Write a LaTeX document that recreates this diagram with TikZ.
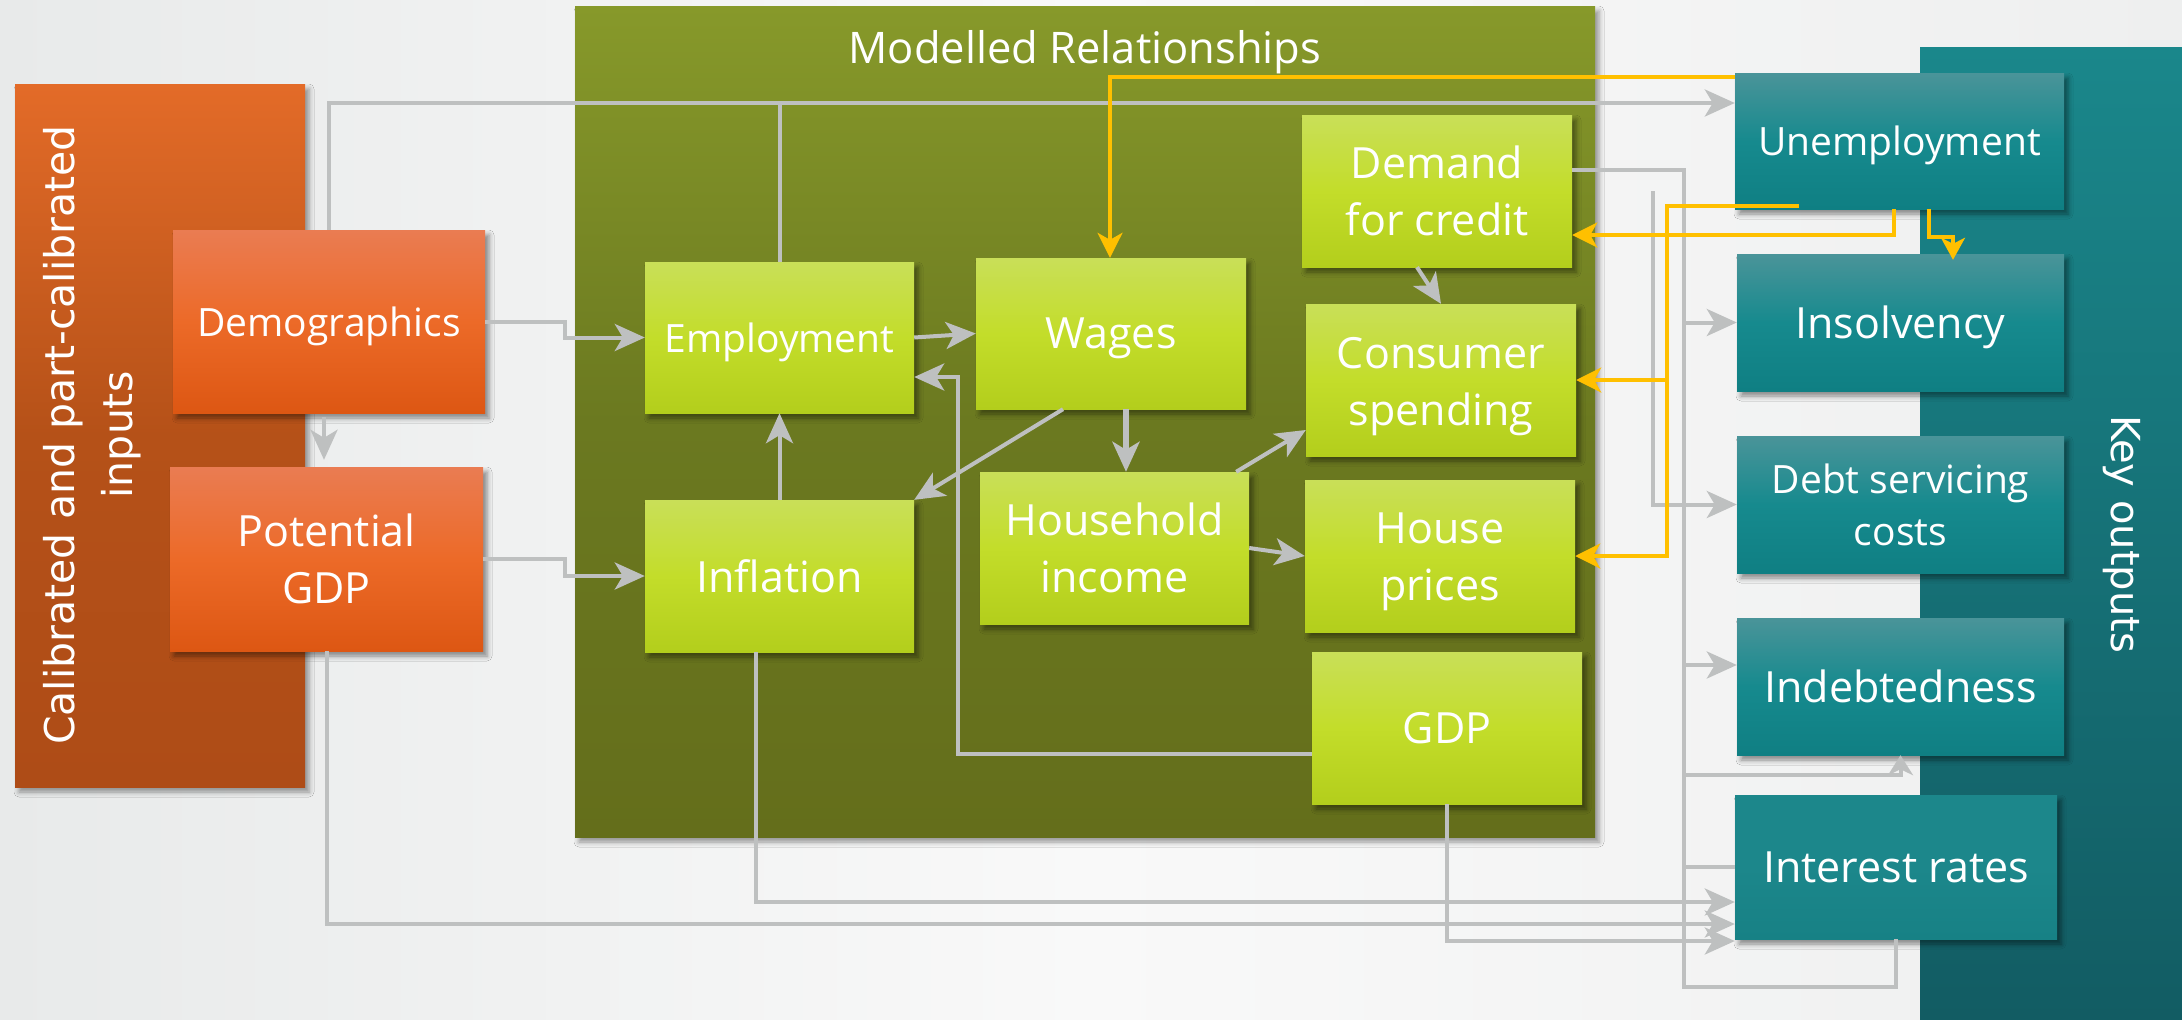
\documentclass[tikz,border=0pt]{standalone}
\usepackage{fontspec}
\setmainfont{Open Sans}
\newfontfamily\widefont{DejaVu Sans}
\usetikzlibrary{arrows.meta,calc,shadows.blur}

% colours
\definecolor{bgL}{HTML}{E8EAEA}
\definecolor{bgM}{HTML}{F9F9F9}
\definecolor{bgR}{HTML}{EEEFEF}
\definecolor{inTop}{HTML}{E36B28}
\definecolor{inMid}{HTML}{B55118}
\definecolor{inBot}{HTML}{AE4C17}
\definecolor{orTop}{HTML}{EA7C52}
\definecolor{orMid}{HTML}{EC6A28}
\definecolor{orBot}{HTML}{DD5713}
\definecolor{modTop}{HTML}{87992A}
\definecolor{modMid}{HTML}{6B7920}
\definecolor{modBot}{HTML}{646E1B}
\definecolor{grTop}{HTML}{C9DF58}
\definecolor{grMid}{HTML}{C3DD2A}
\definecolor{grBot}{HTML}{B3CE1C}
\definecolor{keyTop}{HTML}{1A878B}
\definecolor{keyBot}{HTML}{125C63}
\definecolor{tlTop}{HTML}{4A9499}
\definecolor{tlMid}{HTML}{168A8E}
\definecolor{tlBot}{HTML}{0F7F83}
\definecolor{rateTop}{HTML}{1C878B}
\definecolor{rateBot}{HTML}{178185}
\definecolor{linkgray}{HTML}{BEC0C0}
\definecolor{flow}{HTML}{FFC000}

\newcommand{\boxtext}{\fontsize{43}{57}\selectfont}
\newcommand{\boxtextsmall}{\fontsize{39}{52}\selectfont}
% two centred lines, pushed down a little
\newcommand{\twolines}[3]{\raisebox{#3}[0pt][0pt]{\begin{tabular}{@{}c@{}}#1\\#2\end{tabular}}}

\pgfdeclarelayer{bg}
\pgfdeclarelayer{mid}
\pgfsetlayers{bg,mid,main}

\tikzset{
  box/.style={rectangle, inner sep=0pt, text=white,
    blur shadow={shadow xshift=4pt, shadow yshift=-5pt, shadow blur radius=5pt, shadow opacity=45}},
  inbox/.style={box, top color=orTop, bottom color=orBot, middle color=orMid},
  relbox/.style={box, top color=grTop, bottom color=grBot, middle color=grMid},
  outbox/.style={box, top color=tlTop, bottom color=tlBot, middle color=tlMid},
  link/.style={draw=linkgray, line width=4pt},
  arr/.style={link, -{Stealth[length=30pt, width=27pt, inset=8pt]}},
  yarr/.style={draw=flow, line width=3.5pt, -{Stealth[length=25pt, width=25pt, inset=7pt]}},
}

\begin{document}
\begin{tikzpicture}[x=1pt, y=-1pt]
\useasboundingbox (0,0) rectangle (2182,1020);

% input boxes
\node[inbox, text depth=-5pt, minimum width=312pt, minimum height=183pt, font=\boxtextsmall] (demo) at (329,321.5) {Demographics};
\node[inbox, align=center, minimum width=313pt, minimum height=184pt, font=\boxtext] (pgdp) at (326.5,559) {Potential\\GDP};

% modelled relationships
\node[relbox, text depth=0pt, minimum width=269pt, minimum height=151pt, font=\boxtextsmall] (emp) at (779.5,337.5) {Employment};
\node[relbox, text depth=-6pt, minimum width=270pt, minimum height=151pt, font=\boxtext] (wages) at (1111,333.5) {Wages};
\node[relbox, minimum width=269pt, minimum height=152pt, font=\boxtext] (infl) at (779.5,576) {Inflation};
\node[relbox, align=center, minimum width=269pt, minimum height=152pt, font=\boxtext] (hhinc) at (1114.5,548) {Household\\income};
\node[relbox, align=center, minimum width=270pt, minimum height=152pt, font=\boxtext] (dfc) at (1437,191) {Demand\\for credit};
\node[relbox, minimum width=270pt, minimum height=152pt, font=\boxtext] (cons) at (1441,380) {\twolines{Consumer}{spending}{-12pt}};
\node[relbox, minimum width=270pt, minimum height=152pt, font=\boxtext] (house) at (1440,556) {\twolines{House}{prices}{-10.5pt}};
\node[relbox, minimum width=270pt, minimum height=152pt, font=\boxtext] (gdp) at (1447,728) {GDP};

% key outputs
\node[outbox, text depth=-1pt, minimum width=329pt, minimum height=136pt, font=\boxtextsmall] (unemp) at (1899.5,141) {Unemployment};
\node[outbox, text depth=-4pt, minimum width=327pt, minimum height=137pt, font=\boxtext] (insolv) at (1900.5,322.5) {Insolvency};
\node[outbox, align=center, minimum width=327pt, minimum height=137pt, font=\boxtextsmall] (debt) at (1900.5,504.5) {Debt servicing\\costs};
\node[outbox, text depth=-6pt, minimum width=327pt, minimum height=137pt, font=\boxtext] (indebt) at (1900.5,686.5) {Indebtedness};
\node[outbox, top color=rateTop, bottom color=rateBot, middle color=rateTop, text depth=-6pt,
  minimum width=322pt, minimum height=144pt, font=\boxtext] (intr) at (1896,867) {Interest rates};

% inputs into the model
\draw[arr] (demo.east) -- ++(80,0) |- (emp.west);
\draw[arr] (pgdp.east) -- ++(82,0) |- (infl.west);
\draw[arr, shorten <=4pt, shorten >=7pt] ([xshift=-5pt]demo.south) -- ([xshift=-2.5pt]pgdp.north);
\coordinate (toprow) at ([yshift=38pt]unemp.west);
\draw[arr] (demo.north) |- (toprow);
\draw[link] (emp.north) -- (emp.north |- toprow);

% links inside the model
\draw[arr] (emp.east) -- (wages.west);
\draw[arr] (infl.north) -- (emp.south);
\draw[arr] ([xshift=-48pt]wages.south) -- (infl.north east);
\draw[arr] ([yshift=-26pt]gdp.west) -- ++(-354,0) |- ([yshift=-39.5pt]emp.east);
\coordinate (wagesfoot) at ([xshift=15pt]wages.south);
\draw[arr, line width=6pt] (wagesfoot) -- (wagesfoot |- hhinc.north);
\draw[arr] ([xshift=-13pt]hhinc.north east) -- ([yshift=-50pt]cons.west);
\draw[arr] (hhinc.east) -- (house.west);
\draw[arr] ([xshift=-20pt]dfc.south) -- (cons.north);

% into interest rates
\draw[arr] ([xshift=-23.5pt]infl.south) |- ([yshift=-35pt]intr.west);
\draw[arr] (pgdp.south) |- ([yshift=-57pt]intr.west);
\draw[arr] (gdp.south) |- ([yshift=-74pt]intr.west);

% feedback bus on the right
\coordinate (bus) at ($(intr.west)+(-51,120)$);
\draw[link] ([yshift=21pt]dfc.east) -| (bus) -| (intr.south);
\draw[arr] (bus |- insolv.west) -- (insolv.west);
\coordinate (ind) at ([yshift=21.5pt]indebt.west);
\draw[arr] (bus |- ind) -- (ind);
\coordinate (indb) at ($(indebt.south)+(0,20)$);
\draw[link, -{Stealth[length=20pt, width=25pt, inset=6pt]}] (bus |- indb) -| (indebt.south);
\draw[link] (intr.west) -- (bus |- intr.west);
\begin{pgfonlayer}{mid}
\draw[arr] (intr.west) |- (dfc.east);
\end{pgfonlayer}
\draw[arr] ([xshift=81pt]dfc.east) |- (debt.west);

% unemployment feeds back
\draw[yarr] ([yshift=64pt]unemp.west) -| ([xshift=-1pt]wages.north);
\coordinate (ydrop) at ([xshift=92pt]house.east);
\draw[yarr] ([xshift=-100.5pt,yshift=3pt]unemp.south) -| (ydrop) -- (house.east);
\draw[yarr] (ydrop |- cons.east) -- (cons.east);
\draw[yarr] ([xshift=-5.5pt]unemp.south) |- ([yshift=-44pt]dfc.east);
\draw[yarr, -{Stealth[length=22pt, width=24pt, inset=6pt]}] ([xshift=29.5pt]unemp.south) -- ++(0,28) -| ([xshift=52.5pt,yshift=-6pt]insolv.north);

% panels
\begin{pgfonlayer}{bg}
\shade[left color=bgL, right color=bgR, middle color=bgM] (0,0) rectangle (2182,1020);
\fill[top color=inTop, bottom color=inBot, middle color=inMid,
  blur shadow={shadow xshift=4pt, shadow yshift=-5pt, shadow blur radius=5pt, shadow opacity=40}] (15,84) rectangle (305,787);
\fill[top color=modTop, bottom color=modBot, middle color=modMid,
  blur shadow={shadow xshift=4pt, shadow yshift=-5pt, shadow blur radius=5pt, shadow opacity=40}] (575,6) rectangle (1595,837);
\fill[top color=keyTop, bottom color=keyBot] (1920,47) rectangle (2182,1020);
\end{pgfonlayer}

% panel titles
\node[rotate=90, text=white, align=center, font=\widefont\fontsize{41}{58}\selectfont] (intitle) at (92,435) {Calibrated and part-calibrated\\inputs};
\node[anchor=base, text=white, font=\fontsize{43.5}{50}\selectfont] (modtitle) at (1085,63) {Modelled Relationships};
\node[rotate=-90, text=white, font=\widefont\fontsize{40}{50}\selectfont] (keytitle) at (2122,534) {Key outputs};

\end{tikzpicture}
\end{document}
